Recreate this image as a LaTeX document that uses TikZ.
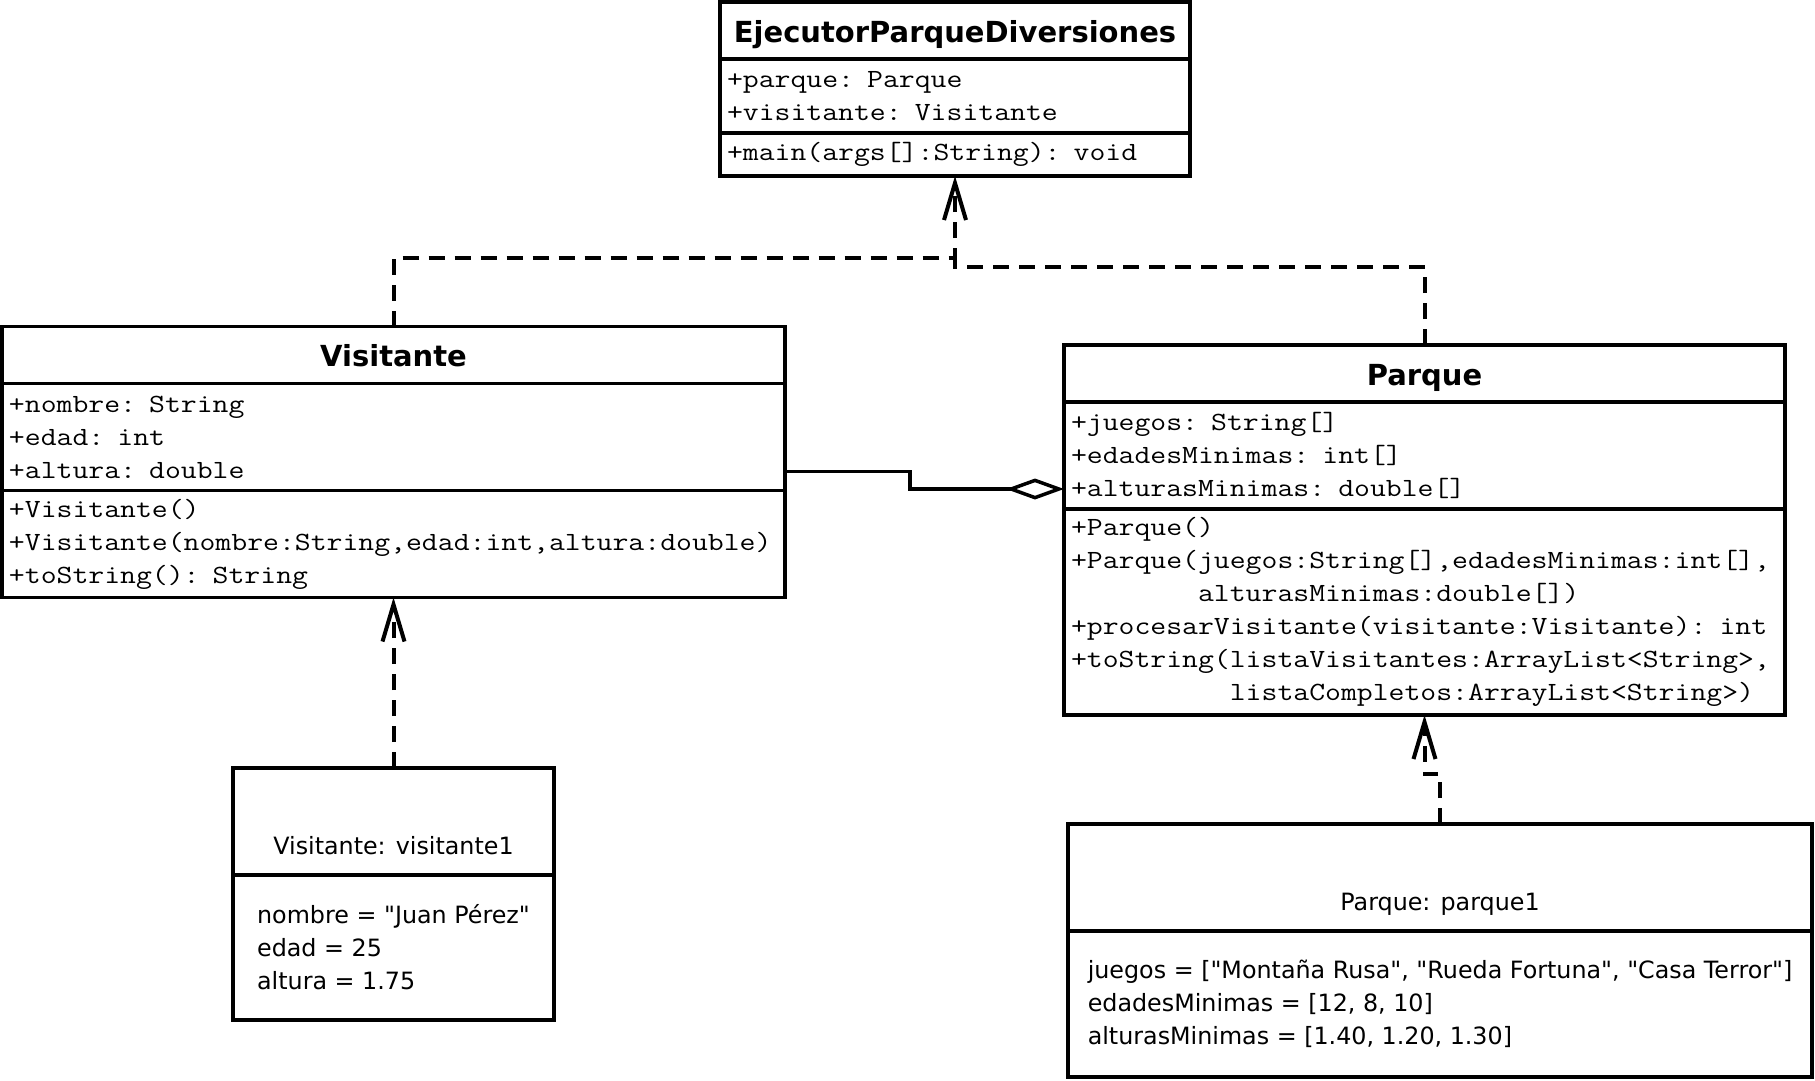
\documentclass[tikz,border=0pt]{standalone}
\usepackage{fontspec}
\setmainfont{DejaVu Sans}[Ligatures=TeXOff]
\setmonofont{Latin Modern Mono}[FakeStretch=1.175]
\usetikzlibrary{arrows.meta,positioning}

\newcommand{\clsfont}{\fontsize{29}{34}\selectfont\bfseries}
\newcommand{\memfont}{\fontsize{26.25}{33}\selectfont\ttfamily}
\newcommand{\objfont}{\fontsize{23.8}{33}\selectfont}

\begin{document}
\begin{tikzpicture}[x=1pt,y=-1pt,line width=3.5pt,
    every node/.style={outer sep=0pt},
    clsname/.style={draw,font=\clsfont,inner sep=0pt,text height=40pt,text depth=17pt},
    clspart/.style={draw,font=\memfont,align=left,inner xsep=7pt,inner ysep=0pt,text width=#1},
    objname/.style={draw,font=\objfont,inner sep=0pt,text height=86pt,text depth=21pt},
    objpart/.style={draw,font=\objfont,align=left,inner ysep=0pt},
    dashline/.style={line width=4pt,dash pattern=on 16pt off 10pt},
    depline/.style={dashline,-{Straight Barb[length=37pt,width=22pt,sharp]}},
    aggline/.style={-{Diamond[fill=white,length=58pt,width=21pt]}}]

  \useasboundingbox (0,0) rectangle (1815,1080);

  % EjecutorParqueDiversiones
  \node[clsname,minimum width=470pt] (ejT) at (955,30.5) {EjecutorParqueDiversiones};
  \node[clspart=456pt,minimum height=74pt,below=0pt of ejT] (ejA) {+parque: Parque\\+visitante: Visitante};
  \node[clspart=456pt,minimum height=43pt,below=0pt of ejA] (ejM) {+main(args[]:String): void};

  % Visitante
  \node[clsname,minimum width=783pt] (visT) at (393.5,355) {Visitante};
  \node[clspart=769pt,minimum height=107pt,below=0pt of visT] (visA) {+nombre: String\\+edad: int\\+altura: double};
  \node[clspart=769pt,minimum height=107pt,below=0pt of visA] (visM) {+Visitante()\\+Visitante(nombre:String,edad:int,altura:double)\\+toString(): String};

  % Parque
  \node[clsname,minimum width=721pt] (parT) at (1424.5,373.5) {Parque};
  \node[clspart=707pt,minimum height=107pt,below=0pt of parT] (parA) {+juegos: String[]\\+edadesMinimas: int[]\\+alturasMinimas: double[]};
  \node[clspart=707pt,minimum height=206pt,below=0pt of parA] (parM) {+Parque()\\+Parque(juegos:String[],edadesMinimas:int[],\\\phantom{+Parque(}alturasMinimas:double[])\\+procesarVisitante(visitante:Visitante): int\\+toString(listaVisitantes:ArrayList<String>,\\\phantom{+toString(}listaCompletos:ArrayList<String>)};

  % objetos
  \node[objname,minimum width=321pt] (vobjT) at (393.5,821.5) {Visitante: visitante1};
  \node[objpart,minimum width=321pt,minimum height=145pt,below=0pt of vobjT] (vobjB) {nombre = "Juan Pérez"\\edad = 25\\altura = 1.75};
  \node[objname,minimum width=744pt] (pobjT) at (1440,877.5) {Parque: parque1};
  \node[objpart,minimum width=744pt,minimum height=146pt,below=0pt of pobjT] (pobjB) {juegos = ["Montaña Rusa", "Rueda Fortuna", "Casa Terror"]\\edadesMinimas = [12, 8, 10]\\alturasMinimas = [1.40, 1.20, 1.30]};

  \coordinate (join) at (955,258);

  % relaciones
  \draw[depline] (visT.north) -- ++(0,-69) -| (ejM.south);
  \draw[dashline] (parT.north) -- ++(0,-78) -| (join);
  \draw[depline] (vobjT.north) -- (visM.south);
  \draw[depline] (pobjT.north) -- ++(0,-50) -| (parM.south);
  \draw[aggline] ([yshift=19pt]visA.south east) -- ++(125,0) |- ([yshift=20pt]parA.south west);

\end{tikzpicture}
\end{document}
